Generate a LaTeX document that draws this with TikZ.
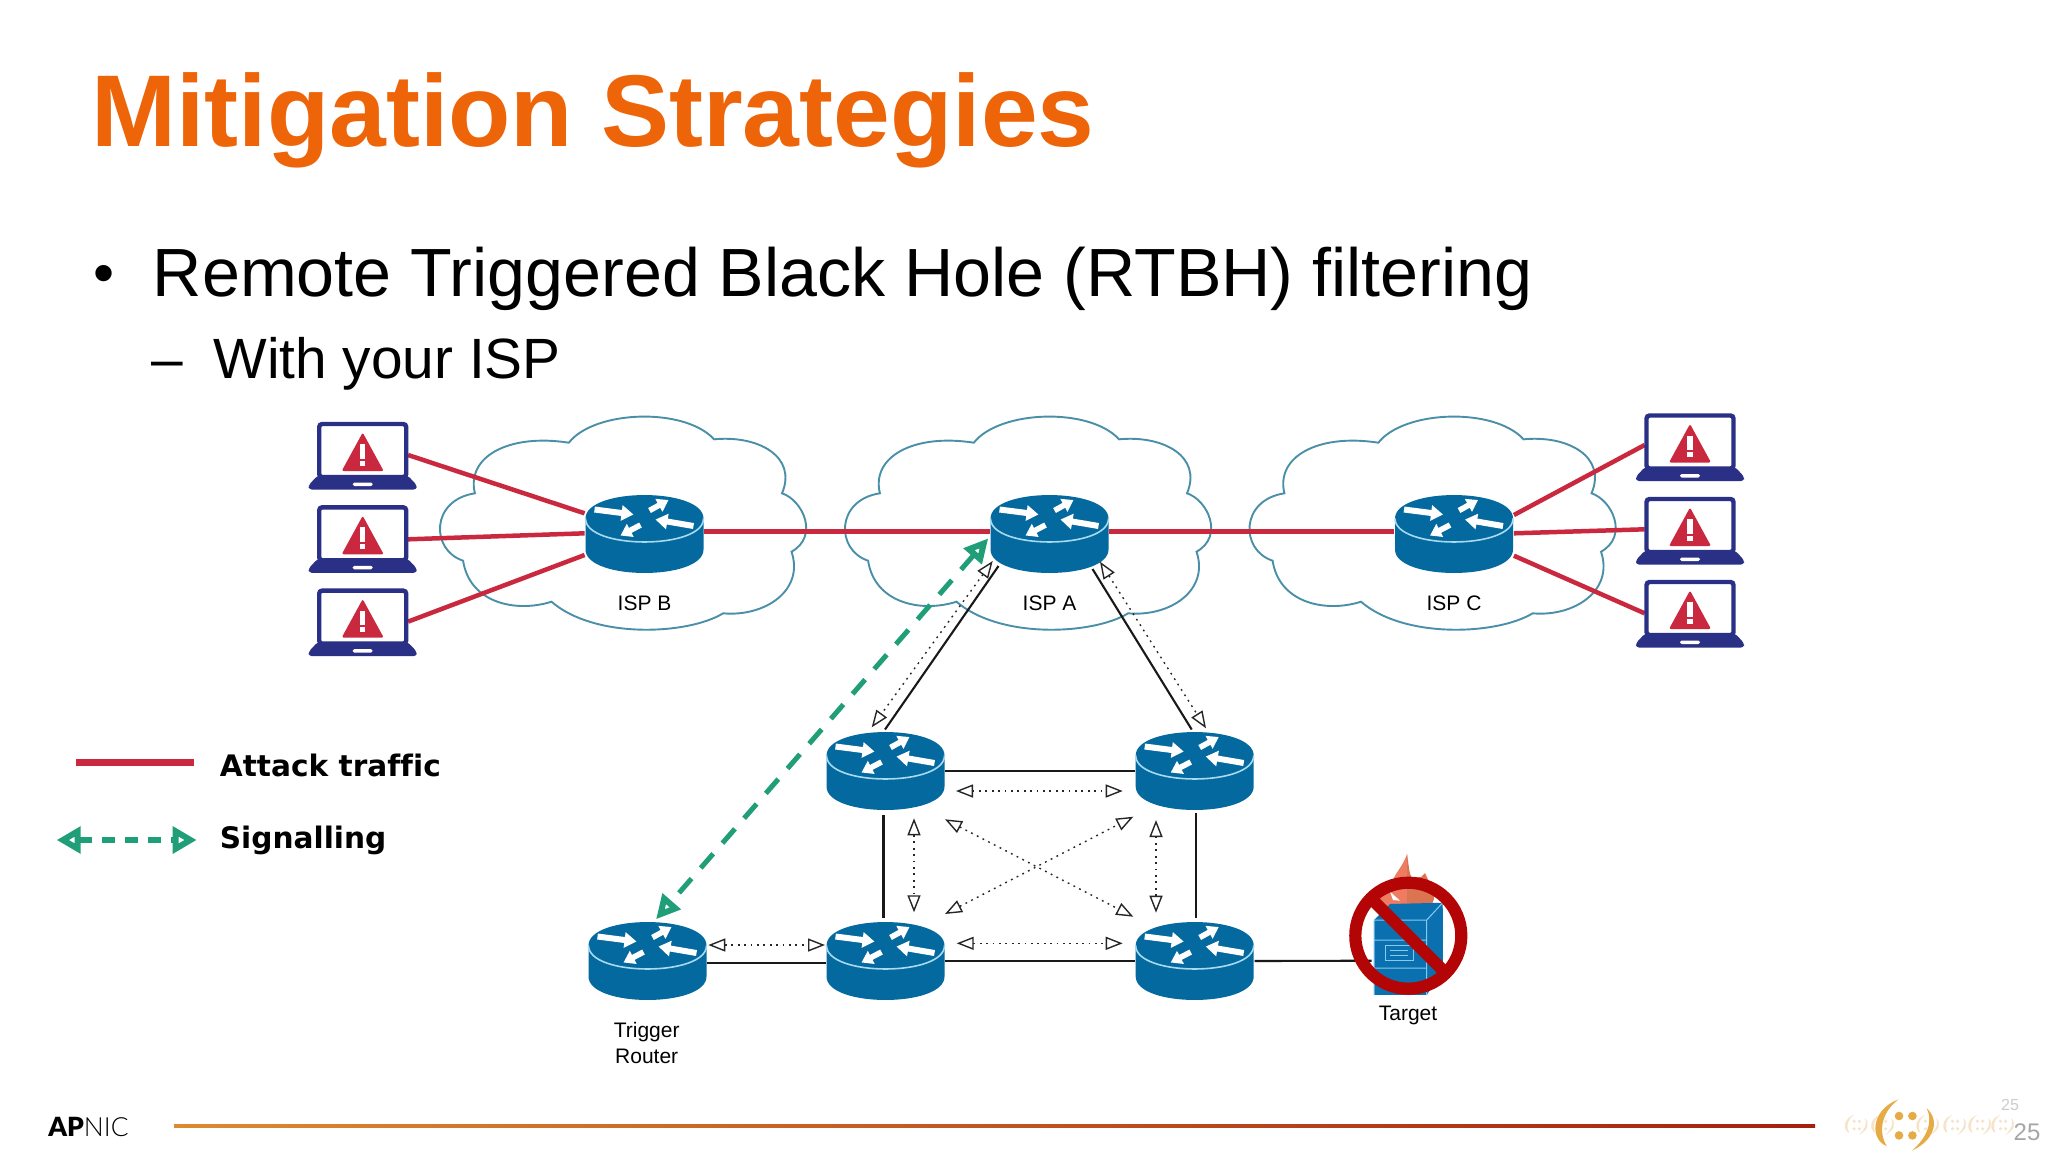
\documentclass[tikz,border=0pt]{standalone}
\usepackage{fontspec}
\setmainfont{Liberation Sans}
\newfontfamily\legendfont[Ligatures=NoCommon]{DejaVu Sans}
\newfontfamily\aplight{Lato Light}
\newfontfamily\apheavy{Lato Black}
\usetikzlibrary{arrows.meta,calc}
\definecolor{cOrange}{HTML}{EE6408}
\definecolor{cRouter}{HTML}{04699E}
\definecolor{cRim}{HTML}{A8DAF0}
\definecolor{cCloud}{HTML}{4A8FA8}
\definecolor{cRed}{HTML}{C9283E}
\definecolor{cGreen}{HTML}{1F9E78}
\definecolor{cLap}{HTML}{2A3086}
\definecolor{cBan}{HTML}{B30505}
\definecolor{cSrv}{HTML}{0B70B0}
\definecolor{cSrvL}{HTML}{86CBEE}
\definecolor{cGold}{HTML}{E6AB45}
\definecolor{cPeach}{HTML}{F6E3C8}
\definecolor{cFlameA}{HTML}{EE7C62}
\definecolor{cFlameB}{HTML}{DC7452}
\definecolor{cLineA}{HTML}{DC8A30}
\definecolor{cLineB}{HTML}{C24A18}
\definecolor{cLineC}{HTML}{A5200F}
\tikzset{
  x=.5pt,y=-.5pt,
  routerbox/.style={rectangle,minimum width=59.5pt,minimum height=39pt,inner sep=0pt},
  lapbox/.style={rectangle,minimum width=45pt,minimum height=27.5pt,inner sep=0pt},
  txt/.style={anchor=base,inner sep=0pt,font=\fontsize{10.5pt}{13pt}\selectfont},
  attack/.style={draw=cRed,line width=2.25pt},
  wire/.style={draw=black!90,line width=1.05pt},
  sig/.style={draw=black!85,line width=.7pt,dash pattern=on .9pt off 2.3pt,
    {Triangle[length=8.5pt,width=6.5pt,fill=white,line width=.7pt]}-{Triangle[length=8.5pt,width=6.5pt,fill=white,line width=.7pt]}},
  signal/.style={draw=cGreen,line width=2.5pt,dash pattern=on 9.5pt off 7pt,
    {Triangle[length=12pt,width=11.5pt,fill=white,line width=3pt]}-{Triangle[length=12pt,width=11.5pt,fill=white,line width=3pt]}},
  whitearrow/.style={draw=white,line width=3pt,-{Triangle[length=6pt,width=7.5pt]}},
  whitearrowb/.style={draw=white,line width=2.8pt,-{Triangle[length=5.5pt,width=7pt]}},
  routericon/.pic={
    \fill[cRouter] (-59,0) .. controls (-59,-31.3) and (59,-31.3) .. (59,0) -- (59,31) .. controls (59,62.3) and (-59,62.3) .. (-59,31) -- cycle;
    \draw[cRim,line width=.8pt] (-59,0) .. controls (-59,31.3) and (59,31.3) .. (59,0);
    \draw[whitearrow] (-50,-9) -- (-11,-4);
    \draw[whitearrowb] (5,-8) -- (24,-18.5);
    \draw[whitearrow] (49,7.5) -- (11,1);
    \draw[whitearrowb] (-4,6.5) -- (-24,17);
  },
  lapicon/.pic={
    \draw[cLap,line width=2.2pt,fill=white,rounded corners=1.5pt] (-43.5,-26) rectangle (43.5,27);
    \fill[cLap,rounded corners=1.5pt] (-45,25.5) -- (45,25.5) -- (54,35) -- (54,39.5) -- (-54,39.5) -- (-54,35) -- cycle;
    \fill[white,rounded corners=.8pt] (-10,32.5) rectangle (10,36);
    \fill[cRed,rounded corners=1pt] (0,-17.5) -- (21,21) -- (-21,21) -- cycle;
    \fill[white] (-2.7,-6) rectangle (2.7,8.5);
    \fill[white] (-2.7,10.8) rectangle (2.7,15.5);
  },
  cloudicon/.pic={
    \draw[cCloud,line width=.95pt]
      (-75.7,442.7) .. controls (-50,410) and (40,407) .. (69.6,439.3)
      .. controls (114,435) and (153,456.7) .. (137.5,493.3)
      .. controls (158,500) and (175,536) .. (147,551.7)
      .. controls (160,590) and (121,617) .. (78.6,613.3)
      .. controls (43,635) and (-50,639) .. (-93,601.7)
      .. controls (-128.6,613) and (-175,603) .. (-181.4,560.7)
      .. controls (-214,550) and (-214,500) .. (-169.6,493.3)
      .. controls (-178.6,456.7) and (-135.7,433.3) .. (-75.7,442.7) -- cycle;
  },
  logoicon/.pic={
    \fill[pic actions] (-7.3,-26.3) .. controls (-35.7,-15.7) and (-35.7,14.3) .. (-19,20.3) .. controls (-27,7.7) and (-25.7,-12.3) .. (-7.3,-26.3) -- cycle;
    \fill[pic actions] (6,25) .. controls (29.3,14.3) and (34.3,-5.7) .. (21,-17.3) .. controls (27,-5.7) and (22.7,11) .. (6,25) -- cycle;
    \foreach \a/\b in {-6.7/-9.7,6.7/-9.7,-6.7/9.7,6.7/9.7}{\fill[pic actions] (\a,\b) circle[radius=4.3];}
  },
}
\begin{document}
\begin{tikzpicture}
\useasboundingbox (0,0) rectangle (2048,1152);
\fill[white] (0,0) rectangle (2048,1152);
% headings
\node[anchor=base west,inner sep=0pt,text=cOrange,font=\fontsize{51pt}{60pt}\selectfont\bfseries] (title) at (91,146) {Mitigation Strategies};
\node[anchor=base,inner sep=0pt,font=\fontsize{30pt}{40pt}\selectfont] (bul) at (104,293) {•};
\node[anchor=base west,inner sep=0pt,font=\fontsize{34.1pt}{40pt}\selectfont] (head) at (152.5,296) {Remote Triggered Black Hole (RTBH) filtering};
\node[anchor=base west,inner sep=0pt,font=\fontsize{28.4pt}{34pt}\selectfont] (dash) at (151,378) {–};
\node[anchor=base west,inner sep=0pt,font=\fontsize{28.4pt}{34pt}\selectfont] (sub) at (213,378) {With your ISP};
% clouds
\pic at (644.5,0) {cloudicon};
\pic at (1049.5,0) {cloudicon};
\pic at (1454,0) {cloudicon};
% named nodes
\node[routerbox] (A) at (1049.5,534) {};
\node[routerbox] (B) at (644.5,534) {};
\node[routerbox] (C) at (1454,534) {};
\node[routerbox] (ML) at (885.5,771) {};
\node[routerbox] (MR) at (1194.7,771) {};
\node[routerbox] (TR) at (647.5,961) {};
\node[routerbox] (BL) at (885.5,961) {};
\node[routerbox] (BR) at (1194.7,961) {};
\node[lapbox] (L1) at (362.7,450) {};
\node[lapbox] (L2) at (362.7,533.3) {};
\node[lapbox] (L3) at (362.7,616.6) {};
\node[lapbox] (R1) at (1690,441.5) {};
\node[lapbox] (R2) at (1690,525) {};
\node[lapbox] (R3) at (1690,608) {};
\node[circle,minimum size=59pt,inner sep=0pt] (T) at (1408.3,935.7) {};
% black links
\draw[wire] ([shift={(-51,32)}]A.center) -- ([shift={(-0.5,-41.5)}]ML.center);
\draw[wire] ([shift={(43,35)}]A.center) -- ([shift={(-3,-41.5)}]MR.center);
\draw[wire] (ML.east) -- (MR.west);
\draw[wire] ([shift={(-2,44)}]ML.center) -- ([shift={(-2,-43.5)}]BL.center);
\draw[wire] ([shift={(1.3,42)}]MR.center) -- ([shift={(1.3,-43.5)}]BR.center);
\draw[wire] ([shift={(0,2)}]TR.east) -- ([shift={(0,2)}]BL.west);
\draw[wire] (BL.east) -- (BR.west);
\draw[wire] (BR.east) -- ([shift={(-36.6,25)}]T.center);
% attack links
\draw[attack] ([shift={(0,5)}]L1.east) -- ([shift={(0,-20.7)}]B.west);
\draw[attack] ([shift={(0,6)}]L2.east) -- ([shift={(0,-.7)}]B.west);
\draw[attack] ([shift={(0,5)}]L3.east) -- ([shift={(0,21)}]B.west);
\draw[attack] ([shift={(0,-2.3)}]B.east) -- ([shift={(0,-2.3)}]A.west);
\draw[attack] ([shift={(0,-2.3)}]A.east) -- ([shift={(0,-2.3)}]C.west);
\draw[attack] ([shift={(0,-19)}]C.east) -- ([shift={(0,3.5)}]R1.west);
\draw[attack] ([shift={(0,-.7)}]C.east) -- ([shift={(0,4.3)}]R2.west);
\draw[attack] ([shift={(0,21.7)}]C.east) -- ([shift={(0,5.3)}]R3.west);
% signalling
\draw[sig] ([shift={(-56.8,27)}]A.center) -- ([shift={(-13.8,-43.7)}]ML.center);
\draw[sig] ([shift={(50.5,27.7)}]A.center) -- ([shift={(11.3,-42.7)}]MR.center);
\draw[sig] ([shift={(70.5,20)}]ML.center) -- ([shift={(-72,20)}]MR.center);
\draw[sig] ([shift={(28.5,47.3)}]ML.center) -- ([shift={(28.5,-48.7)}]BL.center);
\draw[sig] ([shift={(-38.7,49)}]MR.center) -- ([shift={(-38.7,-48.3)}]BR.center);
\draw[sig] ([shift={(59.5,48.3)}]ML.center) -- ([shift={(-61.4,-44.3)}]BR.center);
\draw[sig] ([shift={(59.5,-47)}]BL.center) -- ([shift={(-61.4,45.7)}]MR.center);
\draw[sig] ([shift={(60.8,-16)}]TR.center) -- ([shift={(-60.5,-16)}]BL.center);
\draw[sig] ([shift={(71.2,-17.7)}]BL.center) -- ([shift={(-72,-17.7)}]BR.center);
\draw[signal] ([shift={(-61.2,4.3)}]A.center) -- ([shift={(8.5,-41.7)}]TR.center);
% router icons
\foreach \n in {A,B,C,ML,MR,TR,BL,BR}{\pic at ([shift={(0,-15.5)}]\n.center) {routericon};}
\foreach \n in {L1,L2,L3,R1,R2,R3}{\pic at (\n.center) {lapicon};}
% labels
\node[txt] (lb) at (644.5,610) {ISP B};
\node[txt] (la) at (1049.5,610) {ISP A};
\node[txt] (lc) at (1454,610) {ISP C};
\node[txt] (lt1) at (646.7,1037) {Trigger};
\node[txt] (lt2) at (646.7,1063) {Router};
\node[txt] (ltg) at (1408,1020.5) {Target};
% target icon
\fill[cFlameA] (1407,854) .. controls (1403,866) and (1396,872) .. (1393,880) .. controls (1384,886) and (1377,892) .. (1377,899) .. controls (1380,910) and (1395,918) .. (1407,918) -- cycle;
\fill[cFlameB] (1407,854) .. controls (1409,866) and (1409,874) .. (1412,878) -- (1421,877) -- (1425,873) .. controls (1428,880) and (1434,890) .. (1434,899) .. controls (1431,910) and (1418,918) .. (1407,918) -- cycle;
\fill[white] (1390,891.7) -- (1400,900.7) -- (1393,900) -- cycle;
\fill[cSrv] (1374,920) -- (1390,904) -- (1442.7,902.7) -- (1426.7,920) -- cycle;
\fill[cSrv] (1426.7,920) -- (1442.7,902.7) -- (1443,970) -- (1426.7,995) -- cycle;
\fill[cSrv] (1374,920) rectangle (1426.7,995);
\draw[cSrvL,line width=.5pt] (1374,920) -- (1426.7,920) -- (1426.7,995) (1426.7,920) -- (1442.7,902.7) (1374,920) -- (1374,995) (1374,940) -- (1426.7,940) (1374,968) -- (1426.7,968);
\draw[cSrvL,line width=.5pt] (1385,945.7) rectangle (1413.3,960) (1390,950.7) -- (1408.3,950.7) (1390,955) -- (1408.3,955);
\draw[cBan,line width=6.1pt] (T.center) circle[radius=53];
\draw[cBan,line width=6pt] ([shift={(-35,-35)}]T.center) -- ([shift={(35,35)}]T.center);
% legend
\coordinate (ka) at (76,762.3);
\coordinate (kb) at (194,762.3);
\coordinate (kc) at (56.7,840);
\coordinate (kd) at (196.7,840);
\draw[draw=cRed,line width=3.3pt] (ka) -- (kb);
\draw[draw=cGreen,line width=2.8pt,dash pattern=on 6.5pt off 5pt,
  {Triangle[length=12pt,width=13pt,fill=white,line width=3.4pt]}-{Triangle[length=12pt,width=13pt,fill=white,line width=3.4pt]}] (kc) -- (kd);
\node[anchor=base west,inner sep=0pt,font=\legendfont\bfseries\fontsize{14.8pt}{18pt}\selectfont] (ta) at (219.5,776) {Attack traffic};
\node[anchor=base west,inner sep=0pt,font=\legendfont\bfseries\fontsize{14.8pt}{18pt}\selectfont] (ts) at (219.5,848) {Signalling};
% footer
\node[anchor=base west,inner sep=0pt,font=\fontsize{13.2pt}{16pt}\selectfont] (ap) at (48,1136) {{\apheavy AP}{\aplight NIC}};
\shade[left color=cLineA,middle color=cLineB,right color=cLineC] (174,1124.5) rectangle (1815,1127.5);
% logo
\foreach \c in {1856.7,1883,1928,1955,1980,2003}{\pic[fill=cPeach,scale=.39] at (\c,1125) {logoicon};}
\pic[fill=cGold] at (1905.7,1125.7) {logoicon};
\node[anchor=center,inner sep=0pt,text=black!20,font=\fontsize{8pt}{10pt}\selectfont] (p1) at (2010,1105) {25};
\node[anchor=center,inner sep=0pt,text=black!35,font=\fontsize{12pt}{14pt}\selectfont] (p2) at (2027,1132) {25};
\end{tikzpicture}
\end{document}
